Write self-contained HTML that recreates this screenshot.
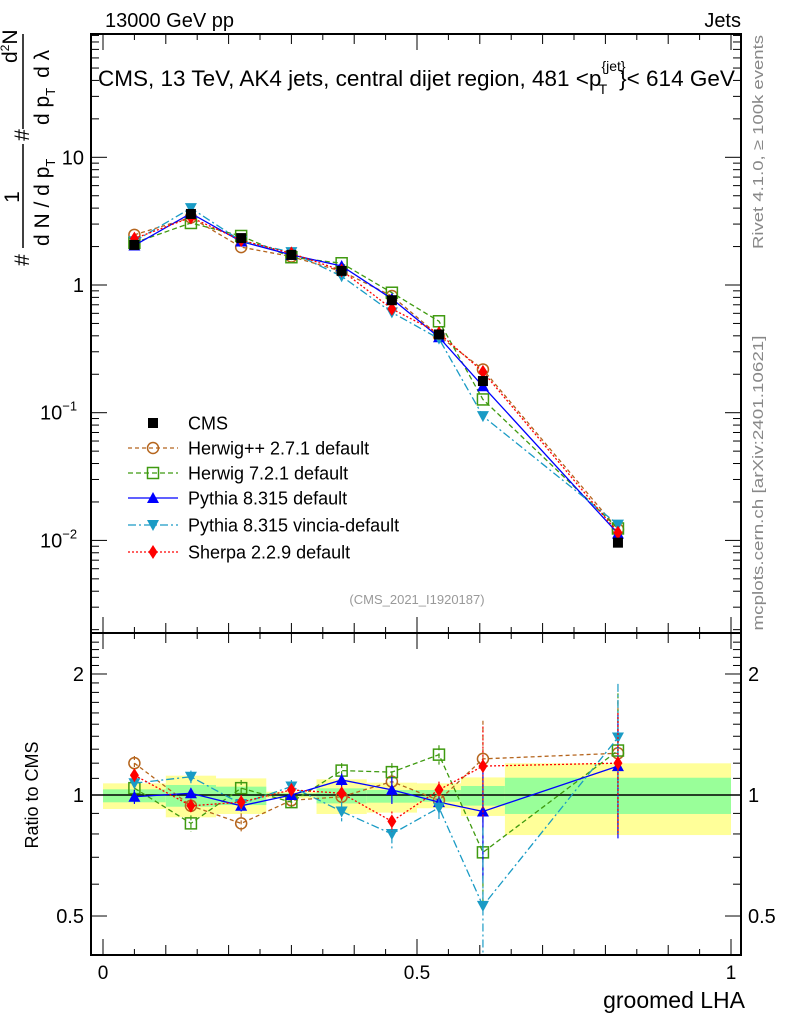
<!DOCTYPE html>
<html><head><meta charset="utf-8"><style>
body{margin:0;background:#fff;}
svg{display:block;font-family:"Liberation Sans",sans-serif;}
</style></head><body>
<svg id="c" width="786" height="1024" viewBox="0 0 786 1024">
<g id="bands"></g>
<g id="marks"></g>
<g id="axes"></g>
<text x="105" y="27" font-size="20">13000 GeV pp</text>
<text x="741" y="27" font-size="20" text-anchor="end">Jets</text>
<text x="98" y="86" font-size="22.5">CMS, 13 TeV, AK4 jets, central dijet region, 481 &lt;p<tspan font-size="14" dy="-15">{jet}</tspan><tspan font-size="14" dx="-27" dy="23">T</tspan><tspan dx="12" dy="-8">}&lt; 614 GeV</tspan></text>
<text x="417" y="604" font-size="13" fill="#999" text-anchor="middle">(CMS_2021_I1920187)</text>
<text transform="translate(763,142) rotate(-90)" font-size="15" fill="#888" text-anchor="middle" textLength="214" lengthAdjust="spacingAndGlyphs">Rivet 4.1.0, ≥ 100k events</text>
<text transform="translate(763,483) rotate(-90)" font-size="15" fill="#888" text-anchor="middle" textLength="295" lengthAdjust="spacingAndGlyphs">mcplots.cern.ch [arXiv:2401.10621]</text>
<text x="745" y="1008" font-size="23" text-anchor="end">groomed LHA</text>
<text transform="translate(38,795) rotate(-90)" font-size="18" text-anchor="middle">Ratio to CMS</text>
<g transform="translate(0,270) rotate(-90)" font-size="21">
<text x="10" y="29" text-anchor="middle">#</text>
<text x="73" y="19" text-anchor="middle">1</text>
<line x1="22" y1="23" x2="126" y2="23" stroke="#000" stroke-width="1.5"/>
<text x="24" y="49">d N / d p<tspan font-size="13" dy="6">T</tspan></text>
<text x="135" y="29" text-anchor="middle">#</text>
<line x1="141" y1="23" x2="236" y2="23" stroke="#000" stroke-width="1.5"/>
<text x="207" y="17">d<tspan font-size="12" dy="-8">2</tspan><tspan dy="8">N</tspan></text>
<text x="145" y="49">d p<tspan font-size="13" dy="6">T</tspan><tspan dx="10" dy="-6">d λ</tspan></text>
</g>
<g id="legend"></g>
</svg>
<script>
const xEdges=[0,0.1,0.18,0.26,0.34,0.42,0.5,0.57,0.64,1.0];
const xCenters=[0.05,0.14,0.22,0.30,0.38,0.46,0.535,0.605,0.82];
const cmsVals=[2.06,3.6,2.33,1.72,1.29,0.76,0.41,0.177,0.0096];
const herwigppVals=[2.47,3.38,1.98,1.67,1.28,0.82,0.40,0.218,0.0122];
const herwig7Vals=[2.14,3.06,2.42,1.65,1.48,0.87,0.52,0.127,0.0124];
const pythiaVals=[2.04,3.64,2.19,1.72,1.41,0.78,0.39,0.161,0.0113];
const vinciaVals=[2.20,4.0,2.21,1.81,1.17,0.61,0.38,0.094,0.0133];
const sherpaVals=[2.31,3.38,2.24,1.77,1.30,0.65,0.42,0.209,0.0115];
const herwigppRatio=[1.20,0.94,0.85,0.97,0.99,1.08,0.97,1.23,1.27];
const herwig7Ratio=[1.04,0.85,1.04,0.96,1.15,1.14,1.26,0.72,1.29];
const pythiaRatio=[0.99,1.01,0.94,1.0,1.09,1.03,0.96,0.91,1.18];
const vinciaRatio=[1.07,1.11,0.95,1.05,0.91,0.80,0.93,0.53,1.39];
const sherpaRatio=[1.12,0.94,0.96,1.03,1.01,0.86,1.03,1.18,1.20];
const herwigppErr=[0.05,0.03,0.05,0.03,0.04,0.05,0.04,0.3,0.45];
const herwig7Err=[0.04,0.04,0.05,0.03,0.05,0.06,0.07,0.2,0.5];
const pythiaErr=[0.04,0.03,0.03,0.03,0.04,0.08,0.06,0.3,0.4];
const vinciaErr=[0.05,0.04,0.04,0.04,0.05,0.07,0.07,0.3,0.5];
const sherpaErr=[0.04,0.03,0.04,0.03,0.04,0.05,0.05,0.3,0.4];
const yellowHi=[1.069,1.117,1.100,1.019,1.094,1.073,1.069,1.106,1.199];
const yellowLo=[0.923,0.880,0.897,0.981,0.897,0.904,0.927,0.887,0.795];
const greenHi=[1.033,1.059,1.049,1.010,1.039,1.029,1.029,1.053,1.104];
const greenLo=[0.959,0.935,0.944,0.992,0.953,0.957,0.962,0.941,0.897];
const mainTicks=[[10,"10"],[1,"1"],[0.1,"10"],[0.01,"10"]];
const mainTickExp=["","","−1","−2"];
const ratioTicks=[[2,"2"],[1,"1"],[0.5,"0.5"]];
const xTicks=[[0,"0"],[0.5,"0.5"],[1,"1"]];

const NS="http://www.w3.org/2000/svg";
const L=91,R=741,T=34,MB=633,RB=955;
const X=v=>103+v*628;
const Y=v=>285-Math.log10(v)*127.7;
const YR=v=>795-Math.log10(v)*402;
function mk(tag,attrs,parent){const e=document.createElementNS(NS,tag);for(const k in attrs)e.setAttribute(k,attrs[k]);parent.appendChild(e);return e;}
const bands=document.getElementById('bands'),marks=document.getElementById('marks'),axes=document.getElementById('axes'),legend=document.getElementById('legend');

for(let i=0;i<xCenters.length;i++){
  const y1=mk('rect',{x:X(xEdges[i]),y:YR(yellowHi[i]),width:X(xEdges[i+1])-X(xEdges[i]),height:YR(yellowLo[i])-YR(yellowHi[i]),fill:'#ffff99'},bands);
  
  
  const g1=mk('rect',{x:X(xEdges[i]),y:YR(greenHi[i]),width:X(xEdges[i+1])-X(xEdges[i]),height:YR(greenLo[i])-YR(greenHi[i]),fill:'#99ff99'},bands);
  
  
}
const one=mk('line',{x1:L,x2:R,y1:YR(1),y2:YR(1),stroke:'#000','stroke-width':1.5},bands);



function marker(type,x,y,col,parent){
  let e;
  if(type==='sq')e=mk('rect',{x:x-5,y:y-5,width:10,height:10,fill:'#000'},parent);
  else if(type==='circ')e=mk('circle',{cx:x,cy:y,r:5.5,fill:'none',stroke:col,'stroke-width':1.5},parent);
  else if(type==='osq')e=mk('rect',{x:x-5.5,y:y-5.5,width:11,height:11,fill:'none',stroke:col,'stroke-width':1.5},parent);
  else if(type==='tu')e=mk('path',{d:`M${x},${y-6}L${x+6},${y+5}L${x-6},${y+5}Z`,fill:col},parent);
  else if(type==='td')e=mk('path',{d:`M${x},${y+6}L${x+6},${y-5}L${x-6},${y-5}Z`,fill:col},parent);
  else e=mk('path',{d:`M${x},${y-7}L${x+4.5},${y}L${x},${y+7}L${x-4.5},${y}Z`,fill:col},parent);
  return e;
}
const models=[
 {name:'herwigpp',label:'Herwig++ 2.7.1 default',col:'#b5651d',dash:'4,3',m:'circ',v:herwigppVals,r:herwigppRatio,e:herwigppErr},
 {name:'herwig7',label:'Herwig 7.2.1 default',col:'#3f9a10',dash:'5,3',m:'osq',v:herwig7Vals,r:herwig7Ratio,e:herwig7Err},
 {name:'pythia',label:'Pythia 8.315 default',col:'#0000ff',dash:'',m:'tu',v:pythiaVals,r:pythiaRatio,e:pythiaErr},
 {name:'vincia',label:'Pythia 8.315 vincia-default',col:'#1a9bc5',dash:'8,3,2,3',m:'td',v:vinciaVals,r:vinciaRatio,e:vinciaErr},
 {name:'sherpa',label:'Sherpa 2.2.9 default',col:'#ff0000',dash:'2,2',m:'dia',v:sherpaVals,r:sherpaRatio,e:sherpaErr}
];
models.forEach(md=>{
  const g=mk('g',{},marks);
  
  
  const d=md.v.map((v,i)=>(i?'L':'M')+X(xCenters[i])+','+Y(v)).join('');
  const p=mk('path',{d:d,fill:'none',stroke:md.col,'stroke-width':1.3,'stroke-dasharray':md.dash},g);
  
  
  const dr=md.r.map((v,i)=>(i?'L':'M')+X(xCenters[i])+','+YR(v)).join('');
  const pr=mk('path',{d:dr,fill:'none',stroke:md.col,'stroke-width':1.3,'stroke-dasharray':md.dash},g);
  
  
  md.r.forEach((v,i)=>{
    const x=X(xCenters[i]);
    const eb=mk('line',{x1:x,x2:x,y1:Math.max(MB,YR(v+md.e[i])),y2:Math.min(RB,YR(Math.max(0.3,v-md.e[i]))),stroke:md.col,'stroke-width':1.2,'stroke-dasharray':md.dash},g);
    
    
    const yy=YR(v);
    if(yy>MB&&yy<RB){const m=marker(md.m,x,yy,md.col,g);
    
    }
  });
  md.v.forEach((v,i)=>{
    const m=marker(md.m,X(xCenters[i]),Y(v),md.col,g);
    
    
  });
});
const cg=mk('g',{},marks);


cmsVals.forEach((v,i)=>{
  const m=marker('sq',X(xCenters[i]),Y(v),'#000',cg);
  
  
});

[[T,MB],[MB,RB]].forEach(([a,b])=>{
  const f=mk('rect',{x:L,y:a,width:R-L,height:b-a,fill:'none',stroke:'#000','stroke-width':2},axes);
  
  
});
for(let k=0;k<=20;k++){
  const v=k*0.05,x=X(v),len=(k%10===0)?16:((k%2===0)?10:6);
  [[MB,-1],[T,1],[RB,-1],[MB,1]].forEach(([y0,s])=>mk('line',{x1:x,x2:x,y1:y0,y2:y0+s*len,stroke:'#000','stroke-width':1},axes));
}
xTicks.forEach(([v,t])=>{
  const e=mk('text',{x:X(v),y:979,'font-size':19,'text-anchor':'middle'},axes);e.textContent=t;
  
  
});
for(let dec=-3;dec<=1;dec++)for(let m=1;m<10;m++){
  const v=m*Math.pow(10,dec),y=Y(v);if(y<T||y>MB)continue;
  const len=m===1?16:8;
  mk('line',{x1:L,x2:L+len,y1:y,y2:y,stroke:'#000','stroke-width':1},axes);
  mk('line',{x1:R,x2:R-len,y1:y,y2:y,stroke:'#000','stroke-width':1},axes);
}
mainTicks.forEach(([v,t],i)=>{
  const e=mk('text',{x:84,y:Y(v)+7,'font-size':20,'text-anchor':'end'},axes);
  e.textContent=t;
  if(mainTickExp[i]){const s=mk('tspan',{'font-size':13,dy:-9},e);s.textContent=mainTickExp[i];e.setAttribute('x',40);e.setAttribute('text-anchor','start');}
  
  
});
for(let v=0.4;v<=2.5;v+=0.1){
  const y=YR(v);if(y<MB||y>RB)continue;
  const major=Math.abs(v-1)<1e-6||Math.abs(v-2)<1e-6||Math.abs(v-0.5)<1e-6;
  const len=major?16:8;
  mk('line',{x1:L,x2:L+len,y1:y,y2:y,stroke:'#000','stroke-width':1},axes);
  mk('line',{x1:R,x2:R-len,y1:y,y2:y,stroke:'#000','stroke-width':1},axes);
}
ratioTicks.forEach(([v,t])=>{
  [[84,'end'],[748,'start']].forEach(([x,a])=>{
    const e=mk('text',{x:x,y:YR(v)+7,'font-size':20,'text-anchor':a},axes);e.textContent=t;
    
    
  });
});
const leg=[{label:'CMS',m:'sq',col:'#000',dash:null}].concat(models);
const legY=[423,448,473,498,525,552];
leg.forEach((md,i)=>{
  const y=legY[i];
  const g=mk('g',{},legend);
  
  
  if(md.dash!==null){mk('line',{x1:128,x2:178,y1:y,y2:y,stroke:md.col,'stroke-width':1.3,'stroke-dasharray':md.dash},g);}
  marker(md.m,153,y,md.col,g);
  const t=mk('text',{x:188,y:y+6.5,'font-size':18},g);t.textContent=md.label;
});
</script>
</body></html>
